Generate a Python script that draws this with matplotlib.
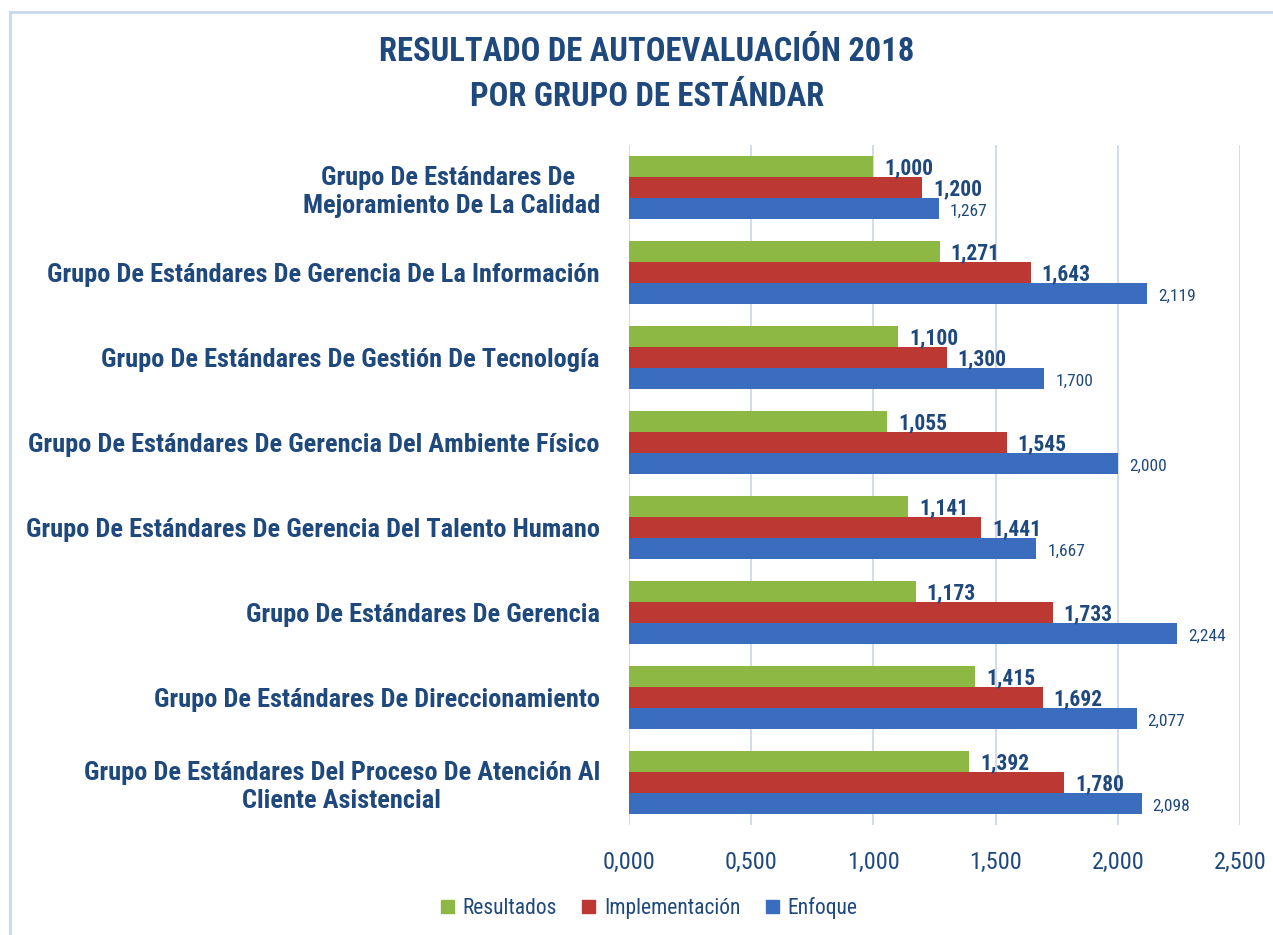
import numpy as np
import matplotlib.pyplot as plt
from matplotlib.ticker import FuncFormatter
from matplotlib.patches import Rectangle, Patch
from matplotlib import font_manager

# font: something close to Calibri
names = set(f.name for f in font_manager.fontManager.ttflist)
fam = 'Lato'
for f in ['Roboto Condensed', 'Open Sans Condensed', 'Liberation Sans Narrow', 'Lato']:
    if f in names:
        fam = f
        break
plt.rcParams['font.family'] = [fam, 'DejaVu Sans']

categorias = ['Grupo De Estándares De \nMejoramiento De La Calidad',
              'Grupo De Estándares De Gerencia De La Información',
              'Grupo De Estándares De Gestión De Tecnología',
              'Grupo De Estándares De Gerencia Del Ambiente Físico',
              'Grupo De Estándares De Gerencia Del Talento Humano',
              'Grupo De Estándares De Gerencia',
              'Grupo De Estándares De Direccionamiento',
              'Grupo De Estándares Del Proceso De Atención Al\nCliente Asistencial']
resultados = [1.000, 1.271, 1.100, 1.055, 1.141, 1.173, 1.415, 1.392]
implementacion = [1.200, 1.643, 1.300, 1.545, 1.441, 1.733, 1.692, 1.780]
enfoque = [1.267, 2.119, 1.700, 2.000, 1.667, 2.244, 2.077, 2.098]
ticks = [0, 0.5, 1.0, 1.5, 2.0, 2.5]

azul_txt = '#1F497D'
c_res = '#8DB843'
c_imp = '#BC3833'
c_enf = '#3A6DBD'

def fmt(v):
    return ('%.3f' % v).replace('.', ',')

fig = plt.figure(figsize=(12.73, 9.35), dpi=100)
fig.patches.append(Rectangle((10/1273, -0.1), 1.1, 1 - 12/935 + 0.1, transform=fig.transFigure,
                             fill=False, edgecolor='#C6D9EE', linewidth=2))
ax = fig.add_axes([629/1273, 1 - 825/935, 611/1273, 680/935])

y = np.arange(len(categorias))
h = 0.25
ax.barh(y - h, resultados, h, color=c_res, zorder=3)
ax.barh(y, implementacion, h, color=c_imp, zorder=3)
ax.barh(y + h, enfoque, h, color=c_enf, zorder=3)

for i in range(len(categorias)):
    ax.text(resultados[i] + 0.045, y[i] - h + 0.02, fmt(resultados[i]), va='center', ha='left',
            fontsize=15.5, fontweight='bold', color=azul_txt)
    ax.text(implementacion[i] + 0.045, y[i] + 0.02, fmt(implementacion[i]), va='center', ha='left',
            fontsize=15.5, fontweight='bold', color=azul_txt)
    ax.text(enfoque[i] + 0.045, y[i] + h + 0.03, fmt(enfoque[i]), va='center', ha='left',
            fontsize=12.5, color=azul_txt)

ax.set_ylim(len(categorias) - 0.5, -0.5)
ax.set_xlim(0, 2.5)
ax.set_xticks(ticks)
ax.xaxis.set_major_formatter(FuncFormatter(lambda v, p: fmt(v)))
ax.set_yticks(y)
ax.set_yticklabels(categorias, multialignment='center')
ax.tick_params(axis='y', length=0, pad=21, labelsize=19, labelcolor=azul_txt)
ax.tick_params(axis='x', length=0, pad=19, labelsize=17.5, labelcolor=azul_txt)
for lbl in ax.get_yticklabels():
    lbl.set_fontweight('bold')
for s in ax.spines.values():
    s.set_visible(False)
ax.grid(axis='x', color='#CBD6E4', linewidth=1.2, zorder=0)

fig.text(0.508, 1 - 52/935, 'RESULTADO DE AUTOEVALUACIÓN 2018', ha='center', va='center',
         fontsize=23.5, fontweight='bold', color=azul_txt)
fig.text(0.508, 1 - 97/935, 'POR GRUPO DE ESTÁNDAR', ha='center', va='center',
         fontsize=23.5, fontweight='bold', color=azul_txt)

handles = [Patch(color=c_res, label='Resultados'),
           Patch(color=c_imp, label='Implementación'),
           Patch(color=c_enf, label='Enfoque')]
fig.legend(handles=handles, loc='center', bbox_to_anchor=(0.51, 1 - 908/935), ncol=3,
           frameon=False, fontsize=15.5, labelcolor=azul_txt, handlelength=0.6, handleheight=0.6,
           columnspacing=1.2, handletextpad=0.4)

fig.savefig('out.png', dpi=100)
